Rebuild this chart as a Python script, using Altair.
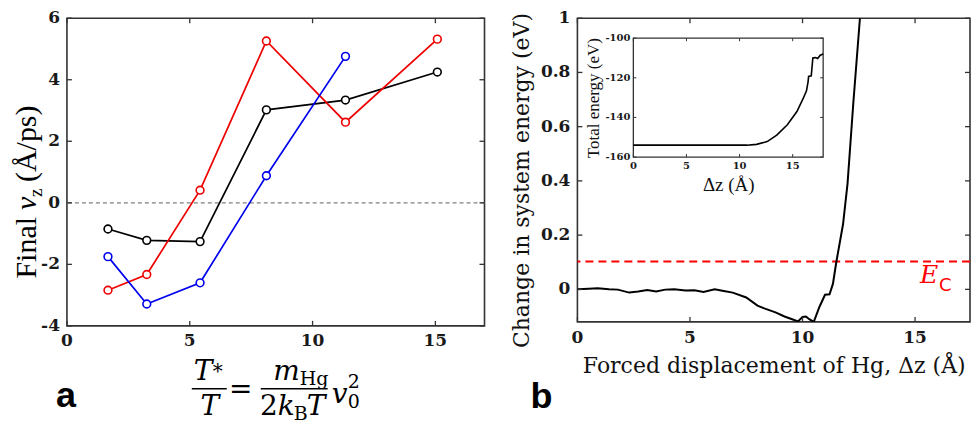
import altair as alt
import pandas as pd

# ---------------- data ----------------
tstar = [1.67, 3.25, 5.42, 8.12, 11.34, 15.08]
vz_black = [-0.85, -1.22, -1.26, 3.02, 3.34, 4.25]
vz_red = [-2.84, -2.33, 0.41, 5.26, 2.62, 5.32]
vz_blue = [-1.75, -3.29, -2.60, 0.88, 4.76]

dz_main = [0, 0.5, 0.9, 1.4, 1.8, 2.3, 2.7, 3.1, 3.5, 3.9, 4.3, 4.8, 5.2, 5.6, 6.1,
           6.5, 6.9, 7.5, 8.0, 8.3, 8.8, 9.2, 9.6, 9.8, 10.0, 10.15, 10.3, 10.5,
           10.75, 11.0, 11.2, 11.35, 11.5, 11.8, 12.0, 12.25, 12.55, 12.75]
dE_main = [0, 0.002, 0.004, 0.0, -0.001, -0.012, -0.008, -0.002, -0.008, -0.001,
           0.0, -0.004, -0.003, -0.01, 0.0, -0.006, -0.012, -0.03, -0.06, -0.07,
           -0.085, -0.1, -0.112, -0.118, -0.102, -0.1, -0.11, -0.12, -0.065, -0.02,
           -0.018, 0.02, 0.1, 0.24, 0.39, 0.68, 1.0, 1.3]

dz_inset = [0, 2, 4, 6, 8, 10, 10.7, 11.6, 12.6, 13.5, 14.5, 15.4, 16.0, 16.3,
            16.45, 16.5, 16.75, 16.9, 17.15, 17.35, 17.6, 17.87]
E_inset = [-154, -154, -154, -154, -154, -154, -154, -153.6, -152.2, -148.9, -143.7,
           -137, -130.3, -126.6, -122, -119.3, -119, -110, -109.8, -110.3, -108.6, -108]

E_c = 0.103

xt_a = [0, 5, 10, 15]
yt_a = [-4, -2, 0, 2, 4, 6]
xt_b = [0, 5, 10, 15]
yt_b = [0, 0.2, 0.4, 0.6, 0.8, 1]
xt_i = [0, 5, 10, 15]
yt_i = [-160, -140, -120, -100]

series_names = ["k", "r", "b"]
series_colors = ["#000000", "#ee0000", "#0000ee"]

# ---------------- layout constants ----------------
WA, HA = 418, 308
WB, HB = 393, 304
SERIF = "Liberation Serif"
DSERIF = "DejaVu Serif"
LABFONT = "DejaVu Serif"
FRAME = "#333333"

rows = []
for name, ys in zip(series_names, [vz_black, vz_red, vz_blue]):
    for i, (x, y) in enumerate(zip(tstar, ys)):
        rows.append({"x": x, "y": y, "s": name, "o": i})
df_a = pd.DataFrame(rows)
df_b = pd.DataFrame({"x": dz_main, "y": dE_main})
df_i = pd.DataFrame({"x": dz_inset, "y": E_inset})
one = pd.DataFrame({"k": [0]})


def fmt(v):
    return "%g" % v


def txt(text, x, y, size, font=SERIF, style="normal", weight="normal",
        color="#000000", align="left", angle=0):
    kw = dict(text=text, font=font, fontSize=size, fontStyle=style,
              fontWeight=weight, color=color, align=align, baseline="alphabetic")
    if angle:
        kw["angle"] = angle
    return alt.Chart(one).mark_text(**kw).encode(x=alt.value(x), y=alt.value(y))


def hbar(x1, x2, y):
    return alt.Chart(one).mark_rule(color="#000000", strokeWidth=1.6).encode(
        x=alt.value(x1), x2=alt.value(x2), y=alt.value(y))


def no_label_axis(values, orient, title=None, **extra):
    kw = dict(values=values, orient=orient, ticks=False, domain=False, grid=False,
              labels=False)
    kw.update(extra)
    kw["title"] = title
    return alt.Axis(**kw)


def tick_layers(xvals, yvals, xs, ys, ax_x, ax_y, x0, x1, y0, y1, L, color=FRAME, sw=1.3):
    dx = pd.DataFrame({"x": xvals})
    dy = pd.DataFrame({"y": yvals})
    X = alt.X("x:Q", scale=xs, axis=ax_x)
    Y = alt.Y("y:Q", scale=ys, axis=ax_y)
    m = dict(color=color, strokeWidth=sw)
    return [
        alt.Chart(dx).mark_rule(**m).encode(x=X, y=alt.value(y1), y2=alt.value(y1 - L)),
        alt.Chart(dx).mark_rule(**m).encode(x=X, y=alt.value(y0), y2=alt.value(y0 + L)),
        alt.Chart(dy).mark_rule(**m).encode(y=Y, x=alt.value(x0), x2=alt.value(x0 + L)),
        alt.Chart(dy).mark_rule(**m).encode(y=Y, x=alt.value(x1), x2=alt.value(x1 - L)),
    ]


def label_layers(xvals, yvals, xs, ys, ax_x, ax_y, x0, y1, size, xpad, ypad):
    dx = pd.DataFrame({"x": xvals, "t": [fmt(v) for v in xvals]})
    dy = pd.DataFrame({"y": yvals, "t": [fmt(v) for v in yvals]})
    m = dict(font=LABFONT, fontWeight="bold", fontSize=size, color="#1a1a1a")
    return [
        alt.Chart(dx).mark_text(baseline="top", align="center", **m).encode(
            x=alt.X("x:Q", scale=xs, axis=ax_x), y=alt.value(y1 + xpad), text="t:N"),
        alt.Chart(dy).mark_text(baseline="middle", align="right", **m).encode(
            y=alt.Y("y:Q", scale=ys, axis=ax_y), x=alt.value(x0 - ypad), text="t:N"),
    ]


# ---------------- panel a ----------------
xs_a = alt.Scale(domain=[0, 17], nice=False, zero=False)
ys_a = alt.Scale(domain=[-4, 6], nice=False, zero=False)
ax_a_x = no_label_axis(xt_a, "bottom")
ax_a_y = no_label_axis(yt_a, "left")
col = alt.Color("s:N", scale=alt.Scale(domain=series_names, range=series_colors), legend=None)
strk = alt.Stroke("s:N", scale=alt.Scale(domain=series_names, range=series_colors), legend=None)

zero_line = alt.Chart(pd.DataFrame({"y": [0]})).mark_rule(
    color="#808080", strokeDash=[4, 3], strokeWidth=1.2).encode(
    y=alt.Y("y:Q", scale=ys_a, axis=ax_a_y))

lines_a = alt.Chart(df_a).mark_line(strokeWidth=1.7).encode(
    x=alt.X("x:Q", scale=xs_a, axis=ax_a_x),
    y=alt.Y("y:Q", scale=ys_a, axis=ax_a_y),
    color=col, order="o:Q")

pts_a = alt.Chart(df_a).mark_point(shape="circle", filled=True, fill="white",
                                    fillOpacity=1, opacity=1, size=60,
                                    strokeWidth=1.6).encode(
    x=alt.X("x:Q", scale=xs_a, axis=ax_a_x),
    y=alt.Y("y:Q", scale=ys_a, axis=ax_a_y),
    stroke=strk)

ann_a = [
    # y title:  Final v_z (Å/ps)
    txt("Final", -31, 199, 30, align="right", angle=270),
    txt("v", -31, 192, 30, style="italic", angle=270),
    txt("z", -25, 179, 19, angle=270),
    txt("(Å/ps)", -31, 164, 30, angle=270),
    # x title formula:  T*/T = m_Hg/(2 k_B T) v_0^2
    txt("T", 127, 362, 28, font=DSERIF, style="italic"),
    txt("*", 146, 360, 20, font=DSERIF),
    hbar(125, 160, 371),
    txt("T", 143, 397, 28, font=DSERIF, style="italic", align="center"),
    txt("=", 174, 380, 28, font=DSERIF, align="center"),
    txt("m", 233, 362, 28, font=DSERIF, style="italic", align="right"),
    txt("Hg", 233, 367, 19, font=DSERIF),
    hbar(194, 261, 371),
    txt("2", 211, 397, 28, font=DSERIF, align="right"),
    txt("k", 211, 397, 28, font=DSERIF, style="italic"),
    txt("B", 227, 402, 19, font=DSERIF),
    txt("T", 240, 397, 28, font=DSERIF, style="italic"),
    txt("v", 265, 385, 28, font=DSERIF, style="italic"),
    txt("2", 281, 370, 19, font=DSERIF),
    txt("0", 281, 390, 19, font=DSERIF),
    # panel letter
    txt("a", -11, 389, 36, font="Liberation Sans", weight="bold"),
]

panel_a = alt.layer(
    zero_line, lines_a, pts_a,
    *tick_layers(xt_a, yt_a, xs_a, ys_a, ax_a_x, ax_a_y, 0, WA, 0, HA, 5),
    *label_layers(xt_a, yt_a, xs_a, ys_a, ax_a_x, ax_a_y, 0, HA, 17, 7, 7),
    *ann_a,
).properties(width=WA, height=HA)

# ---------------- panel b (main) ----------------
xs_b = alt.Scale(domain=[0, 17.44], nice=False, zero=False)
ys_b = alt.Scale(domain=[-0.12, 1], nice=False, zero=False)
ax_b_x = no_label_axis(xt_b, "bottom", title="Forced displacement of Hg, Δz (Å)",
                       titleFont=DSERIF, titleFontSize=22, titleFontWeight="normal",
                       titleColor="#111111", titlePadding=34)
ax_b_y = no_label_axis(yt_b, "left", title="Change in system energy (eV)",
                       titleFont=DSERIF, titleFontSize=22, titleFontWeight="normal",
                       titleColor="#111111", titlePadding=44, titleY=162)

curve_b = alt.Chart(df_b).mark_line(color="#000000", strokeWidth=2, clip=True).encode(
    x=alt.X("x:Q", scale=xs_b, axis=ax_b_x),
    y=alt.Y("y:Q", scale=ys_b, axis=ax_b_y))

ec_rule = alt.Chart(pd.DataFrame({"y": [E_c]})).mark_rule(
    color="#ff0000", strokeDash=[8, 5], strokeWidth=2).encode(
    y=alt.Y("y:Q", scale=ys_b, axis=ax_b_y))

ann_b = [
    txt("E", 343, 265, 25, font=DSERIF, style="italic", color="#ff0000"),
    txt("C", 362, 273, 18, font="DejaVu Sans", color="#ff0000"),
    txt("b", -47, 390, 36, font="Liberation Sans", weight="bold"),
]

main_b = alt.layer(
    ec_rule, curve_b,
    *tick_layers(xt_b, yt_b, xs_b, ys_b, ax_b_x, ax_b_y, 0, WB, 0, HB, 5),
    *label_layers(xt_b, yt_b, xs_b, ys_b, ax_b_x, ax_b_y, 0, HB, 17, 8, 7),
    *ann_b,
)

# ---------------- panel b (inset) ----------------
IX0, IX1, IY0, IY1 = 56, 246, 20, 139
xs_i = alt.Scale(domain=[0, 17.87], range=[IX0, IX1], nice=False, zero=False)
ys_i = alt.Scale(domain=[-160, -100], range=[IY1, IY0], nice=False, zero=False)
ax_i_x = no_label_axis(xt_i, "bottom", title="Δz (Å)", offset=-(HB - IY1),
                       titleFont=SERIF, titleFontSize=19, titleFontWeight="normal",
                       titleColor="#111111", titlePadding=18)
ax_i_y = no_label_axis(yt_i, "left", title="Total energy (eV)", offset=-IX0,
                       titleFont=SERIF, titleFontSize=17, titleFontWeight="normal",
                       titleColor="#111111", titlePadding=31)

inset_frame = alt.Chart(one).mark_rect(fill="white", stroke=FRAME, strokeWidth=1.3).encode(
    x=alt.value(IX0), x2=alt.value(IX1), y=alt.value(IY0), y2=alt.value(IY1))

inset_curve = alt.Chart(df_i).mark_line(color="#000000", strokeWidth=1.6).encode(
    x=alt.X("x:Q", scale=xs_i, axis=ax_i_x),
    y=alt.Y("y:Q", scale=ys_i, axis=ax_i_y))

inset = alt.layer(
    inset_frame, inset_curve,
    *tick_layers(xt_i, yt_i, xs_i, ys_i, ax_i_x, ax_i_y, IX0, IX1, IY0, IY1, 3, sw=1.0),
    *label_layers(xt_i, yt_i, xs_i, ys_i, ax_i_x, ax_i_y, IX0, IY1, 10, 4, 3),
)

panel_b = alt.layer(main_b, inset).resolve_scale(
    x="independent", y="independent").properties(width=WB, height=HB)

chart = alt.hconcat(panel_a, panel_b, spacing=93, bounds="flush").properties(
    padding={"left": 3, "top": 0, "right": 0, "bottom": 0}
).configure_view(
    stroke=FRAME, strokeWidth=1.6
)

chart.save("out.html", embed_options={"renderer": "svg", "actions": False})
